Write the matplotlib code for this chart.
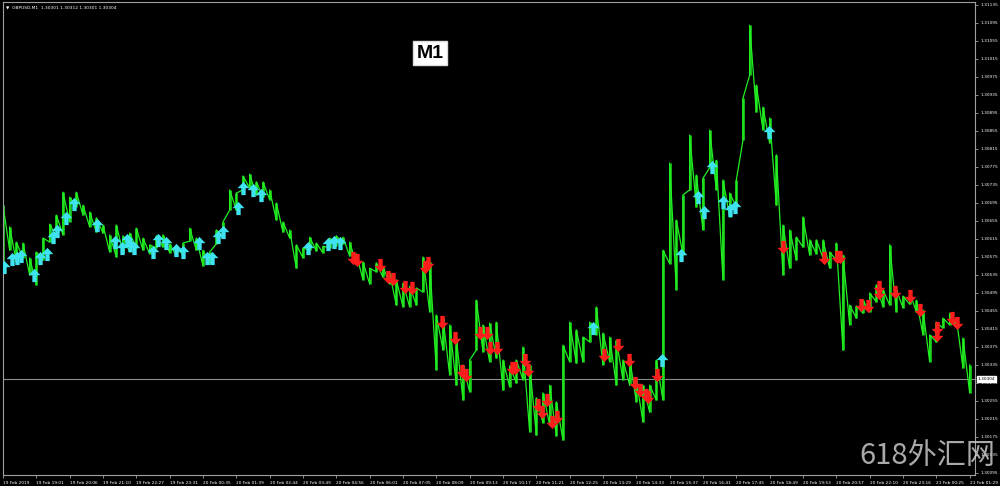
import numpy as np
import matplotlib.pyplot as plt
from matplotlib.path import Path

# GBPUSD M1, 19-21 Feb 2019 (one column ~ 13 bars)
time_labels = ['19 Feb 2019', '19 Feb 19:01', '19 Feb 20:06', '19 Feb 21:10', '19 Feb 22:27',
               '19 Feb 23:31', '20 Feb 00:35', '20 Feb 01:39', '20 Feb 02:44', '20 Feb 03:49',
               '20 Feb 04:56', '20 Feb 06:01', '20 Feb 07:05', '20 Feb 08:09', '20 Feb 09:13',
               '20 Feb 10:17', '20 Feb 11:21', '20 Feb 12:25', '20 Feb 13:29', '20 Feb 14:33',
               '20 Feb 15:37', '20 Feb 16:41', '20 Feb 17:45', '20 Feb 18:49', '20 Feb 19:53',
               '20 Feb 20:57', '20 Feb 22:10', '20 Feb 23:16', '21 Feb 00:25', '21 Feb 01:29']

bar_high = [1.30690, 1.30642, 1.30608, 1.30606, 1.30573, 1.30586, 1.30617, 1.30648, 1.30668, 1.30719,
            1.30708, 1.30719, 1.30690, 1.30675, 1.30662, 1.30646, 1.30624, 1.30646, 1.30622, 1.30628,
            1.30639, 1.30617, 1.30602, 1.30622, 1.30624, 1.30604, 1.30597, 1.30606, 1.30639, 1.30617,
            1.30590, 1.30586, 1.30635, 1.30653, 1.30724, 1.30717, 1.30755, 1.30759, 1.30742, 1.30742,
            1.30724, 1.30695, 1.30653, 1.30635, 1.30602, 1.30595, 1.30619, 1.30606, 1.30599, 1.30617,
            1.30622, 1.30619, 1.30608, 1.30582, 1.30564, 1.30550, 1.30562, 1.30553, 1.30539, 1.30524,
            1.30517, 1.30510, 1.30506, 1.30575, 1.30564, 1.30446, 1.30439, 1.30424, 1.30395, 1.30335,
            1.30346, 1.30479, 1.30424, 1.30428, 1.30430, 1.30346, 1.30333, 1.30346, 1.30375, 1.30335,
            1.30262, 1.30273, 1.30290, 1.30253, 1.30379, 1.30430, 1.30413, 1.30397, 1.30430, 1.30464,
            1.30406, 1.30397, 1.30390, 1.30346, 1.30350, 1.30302, 1.30290, 1.30290, 1.30346, 1.30590,
            1.30784, 1.30657, 1.30713, 1.30846, 1.30757, 1.30750, 1.30857, 1.30790, 1.30746, 1.30717,
            1.30746, 1.30928, 1.31090, 1.30957, 1.30908, 1.30884, 1.30802, 1.30646, 1.30635, 1.30619,
            1.30664, 1.30613, 1.30613, 1.30613, 1.30586, 1.30606, 1.30579, 1.30468, 1.30466, 1.30479,
            1.30495, 1.30513, 1.30502, 1.30602, 1.30502, 1.30488, 1.30497, 1.30479, 1.30457, 1.30402,
            1.30430, 1.30439, 1.30450, 1.30439, 1.30395, 1.30335]

bar_low = [1.30557, 1.30590, 1.30564, 1.30573, 1.30535, 1.30513, 1.30568, 1.30608, 1.30619, 1.30624,
           1.30653, 1.30686, 1.30668, 1.30642, 1.30630, 1.30628, 1.30586, 1.30575, 1.30584, 1.30586,
           1.30595, 1.30590, 1.30582, 1.30595, 1.30597, 1.30584, 1.30577, 1.30579, 1.30610, 1.30590,
           1.30555, 1.30559, 1.30604, 1.30622, 1.30679, 1.30679, 1.30724, 1.30728, 1.30713, 1.30708,
           1.30702, 1.30657, 1.30630, 1.30617, 1.30550, 1.30573, 1.30590, 1.30588, 1.30584, 1.30595,
           1.30599, 1.30604, 1.30577, 1.30559, 1.30524, 1.30515, 1.30542, 1.30530, 1.30515, 1.30468,
           1.30464, 1.30464, 1.30468, 1.30497, 1.30453, 1.30324, 1.30368, 1.30313, 1.30290, 1.30257,
           1.30275, 1.30368, 1.30364, 1.30342, 1.30350, 1.30279, 1.30286, 1.30295, 1.30302, 1.30186,
           1.30179, 1.30206, 1.30202, 1.30177, 1.30168, 1.30342, 1.30339, 1.30342, 1.30386, 1.30402,
           1.30335, 1.30342, 1.30290, 1.30302, 1.30290, 1.30253, 1.30208, 1.30230, 1.30257, 1.30257,
           1.30560, 1.30502, 1.30580, 1.30724, 1.30686, 1.30635, 1.30773, 1.30724, 1.30524, 1.30664,
           1.30686, 1.30835, 1.30979, 1.30897, 1.30857, 1.30828, 1.30690, 1.30535, 1.30550, 1.30568,
           1.30597, 1.30579, 1.30582, 1.30573, 1.30550, 1.30568, 1.30368, 1.30424, 1.30439, 1.30450,
           1.30453, 1.30475, 1.30464, 1.30468, 1.30453, 1.30462, 1.30470, 1.30453, 1.30402, 1.30342,
           1.30386, 1.30417, 1.30424, 1.30419, 1.30328, 1.30273]

# signal arrows: column position and price
buy_x = [0.2, 1.4, 2.1, 2.7, 4.7, 5.6, 6.6, 7.5, 8.1, 9.5, 10.7, 14.1, 16.8, 17.9, 18.6, 19.1, 19.7,
         22.5, 23.3, 24.5, 25.9, 27.0, 29.4, 30.6, 31.4, 32.3, 33.0, 35.2, 36.0, 37.5, 38.7, 45.8,
         48.7, 49.6, 50.5, 88.5, 98.9, 101.7, 104.3, 105.2, 106.4, 108.0, 109.1, 109.8, 114.9]
buy_price = [1.30553, 1.30571, 1.30573, 1.30577, 1.30535, 1.30573, 1.30582, 1.30619, 1.30633, 1.30662,
             1.30693, 1.30646, 1.30608, 1.30595, 1.30613, 1.30602, 1.30595, 1.30586, 1.30613, 1.30606,
             1.30590, 1.30586, 1.30606, 1.30573, 1.30573, 1.30619, 1.30630, 1.30684, 1.30728, 1.30724,
             1.30713, 1.30595, 1.30604, 1.30608, 1.30606, 1.30417, 1.30346, 1.30579, 1.30708, 1.30675,
             1.30775, 1.30697, 1.30679, 1.30686, 1.30853]

sell_x = [52.5, 53.1, 56.6, 57.8, 58.5, 60.3, 61.4, 63.3, 63.8, 65.9, 67.8, 68.9, 69.5, 71.6, 72.6,
          73.1, 74.1, 76.4, 76.8, 78.3, 78.8, 80.3, 80.9, 81.6, 82.4, 83.1, 90.2, 92.3, 93.9, 94.8,
          95.6, 96.4, 96.8, 98.1, 117.0, 123.2, 125.1, 125.6, 128.7, 129.8, 131.4, 131.4, 133.8, 136.1,
          137.6, 140.1, 140.1, 142.4, 143.1]
sell_price = [1.30573, 1.30568, 1.30557, 1.30530, 1.30526, 1.30508, 1.30506, 1.30553, 1.30562, 1.30430,
              1.30395, 1.30322, 1.30313, 1.30406, 1.30406, 1.30373, 1.30373, 1.30328, 1.30328, 1.30346,
              1.30324, 1.30246, 1.30230, 1.30257, 1.30208, 1.30219, 1.30357, 1.30379, 1.30346, 1.30295,
              1.30279, 1.30268, 1.30264, 1.30313, 1.30597, 1.30573, 1.30575, 1.30575, 1.30468, 1.30466,
              1.30508, 1.30495, 1.30497, 1.30488, 1.30457, 1.30417, 1.30402, 1.30439, 1.30428]

y_ticks = [1.30095 + 0.0004 * i for i in range(27)]
last_price = 1.30304
header = '\u25bc  GBPUSD,M1  1.30301 1.30312 1.30301 1.30304'

green = '#22ee22'
frame = '#a0a0a0'

up = Path([(0, 1), (-0.9, 0.05), (-0.33, 0.05), (-0.33, -1), (0.33, -1), (0.33, 0.05), (0.9, 0.05), (0, 1)],
          [Path.MOVETO] + [Path.LINETO] * 6 + [Path.CLOSEPOLY])
down = Path([(x, -y) for x, y in up.vertices], up.codes)

fig = plt.figure(figsize=(10, 4.86), dpi=100, facecolor='black')
ax = fig.add_axes([0.003, 0.0226, 0.972, 0.9733], facecolor='black')

x = np.arange(len(bar_high))
xs = np.repeat(x, 2)
ys = np.column_stack([bar_low, bar_high]).ravel()
ax.vlines(x, bar_low, bar_high, color='#19c419', lw=2.0, zorder=2)
ax.plot(xs, ys, color=green, lw=0.9, zorder=2)

ax.axhline(last_price, color='#8c8c8c', lw=0.8, zorder=1)

ax.plot(buy_x, buy_price, ls='none', marker=up, markersize=9.5, color='#3fe3f0', mec='none', zorder=3)
ax.plot(sell_x, sell_price, ls='none', marker=down, markersize=9.5, color='#ff1c1c', mec='none', zorder=3)

ax.set_xlim(0.05, 145.8)
ax.set_ylim(1.300904, 1.311416)

ax.yaxis.tick_right()
ax.set_yticks(y_ticks)
ax.set_yticklabels(['%.5f' % v for v in y_ticks])
ax.set_xticks(np.arange(0, 5 * len(time_labels), 5))
ax.set_xticklabels(time_labels, ha='left')
ax.tick_params(axis='both', colors=frame, labelcolor='white', labelsize=3.1, length=2.5, width=0.6, pad=1.5)
for sp in ax.spines.values():
    sp.set_color(frame)
    sp.set_linewidth(0.8)

ax.text(1.003, last_price, '1.30304', transform=ax.get_yaxis_transform(), fontsize=3.1, color='black',
        va='center', ha='left', bbox=dict(facecolor='white', edgecolor='white', pad=0.6), zorder=5)

fig.text(0.006, 0.988, header, color='white', fontsize=3.2, va='top', ha='left')

ax.text(0.4395, 0.892, 'M1', transform=ax.transAxes, fontsize=14, fontweight='bold', color='black',
        family='Liberation Sans', ha='center', va='center',
        bbox=dict(facecolor='white', edgecolor='#dddddd', pad=2.5))

fig.text(0.995, 0.03, '618外汇网', color='#c8c8c8', fontsize=21, ha='right', va='bottom',
         family=['Noto Sans CJK SC', 'DejaVu Sans'], fontweight='light', alpha=0.85)

fig.savefig('out.png', dpi=100, facecolor='black')
